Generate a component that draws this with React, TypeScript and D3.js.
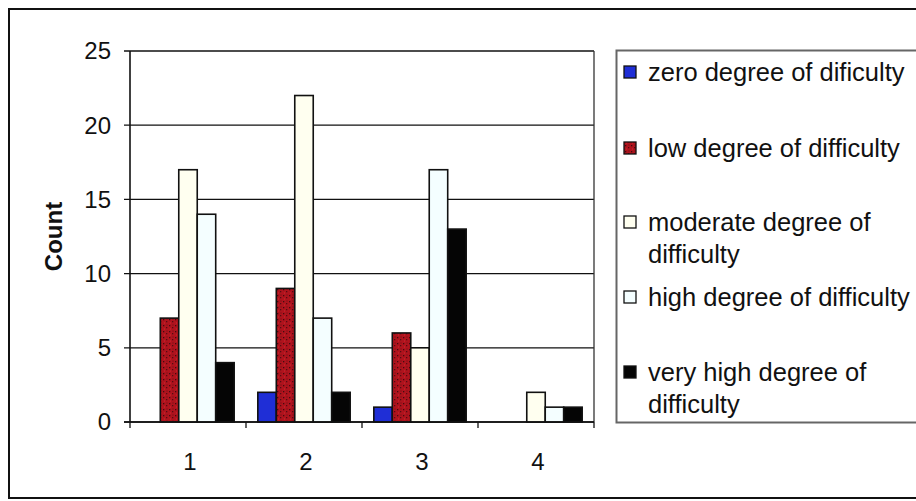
import React from "react";
import * as d3 from "d3";

const categories = ["1", "2", "3", "4"];
const seriesNames = [
  "zero degree of dificulty",
  "low degree of difficulty",
  "moderate degree of difficulty",
  "high degree of difficulty",
  "very high degree of difficulty",
];
const legendLines = [
  ["zero degree of dificulty"],
  ["low degree of difficulty"],
  ["moderate degree of", "difficulty"],
  ["high degree of difficulty"],
  ["very high degree of", "difficulty"],
];
const zeroValues = [0, 2, 1, 0];
const lowValues = [7, 9, 6, 0];
const moderateValues = [17, 22, 5, 2];
const highValues = [14, 7, 17, 1];
const veryHighValues = [4, 2, 13, 1];
const seriesValues = [zeroValues, lowValues, moderateValues, highValues, veryHighValues];
const yTicks = [0, 5, 10, 15, 20, 25];
const seriesFills = ["#1f2ed6", "url(#redTex)", "#fffff0", "#f4feff", "#050505"];

const FONT = "'Liberation Sans', Arial, sans-serif";

export default function App() {
  const left = 130, right = 594, top = 51, bottom = 422;
  const x0 = d3.scaleBand<string>().domain(categories).range([left, right]).paddingInner(0).paddingOuter(0);
  const x1 = d3.scaleBand<string>().domain(seriesNames).range([0, x0.bandwidth()]).paddingInner(0).paddingOuter(0.64);
  const y = d3.scaleLinear().domain([0, 25]).range([bottom, top]);

  const legendRowY = [72, 148, 222, 297, 372];

  return (
    <svg width={916} height={501} style={{ position: "absolute", left: 0, top: 0, background: "#fff" }}
      fontFamily={FONT}>
      <defs>
        <pattern id="redTex" width="6" height="6" patternUnits="userSpaceOnUse">
          <rect width="6" height="6" fill="#b0131d" />
          <rect x="1" y="1" width="1.3" height="1.3" fill="#440a0f" />
          <rect x="4" y="3" width="1.3" height="1.3" fill="#550b11" />
          <rect x="2" y="4.5" width="1" height="1" fill="#d02830" />
          <rect x="4.5" y="0.5" width="1" height="1" fill="#650d13" />
        </pattern>
      </defs>
      <rect x={0} y={0} width={916} height={501} fill="#fff" />
      {/* outer frame */}
      <rect x={9} y={9} width={920} height={489} fill="none" stroke="#111" strokeWidth={2} />

      {/* gridlines */}
      {yTicks.map((t) => (
        <line key={"g" + t} x1={left - 6} x2={right} y1={y(t)} y2={y(t)} stroke="#111" strokeWidth={1.3} />
      ))}
      {/* plot right border */}
      <line x1={right} x2={right} y1={top} y2={bottom} stroke="#333" strokeWidth={1.3} />
      {/* y tick labels */}
      {yTicks.map((t) => (
        <text key={"yl" + t} x={111} y={y(t)} dy="0.35em" textAnchor="end" fontSize={24} fill="#111">
          {t}
        </text>
      ))}
      {/* y axis title */}
      <text transform={`translate(62,${(top + bottom) / 2}) rotate(-90)`} textAnchor="middle" fontSize={24}
        fontWeight="bold" fill="#111">
        Count
      </text>

      {/* bars */}
      {categories.map((c, ci) =>
        seriesNames.map((s, si) => {
          const v = seriesValues[si][ci];
          if (v <= 0) return null;
          const bx = (x0(c) as number) + (x1(s) as number);
          return (
            <rect key={c + s} x={bx} y={y(v)} width={x1.bandwidth()} height={y(0) - y(v)}
              fill={seriesFills[si]} stroke="#111" strokeWidth={1.6} />
          );
        })
      )}

      {/* axes */}
      <line x1={left} x2={left} y1={top} y2={bottom} stroke="#111" strokeWidth={1.6} />
      <line x1={left - 6} x2={right} y1={bottom} y2={bottom} stroke="#111" strokeWidth={1.6} />
      {[...categories.map((c) => x0(c) as number), right].map((xv, i) => (
        <line key={"xt" + i} x1={xv} x2={xv} y1={bottom} y2={bottom + 6} stroke="#111" strokeWidth={1.3} />
      ))}
      {categories.map((c) => (
        <text key={"xl" + c} x={(x0(c) as number) + x0.bandwidth() / 2 + 2} y={462} dy="0.35em"
          textAnchor="middle" fontSize={24} fill="#111">
          {c}
        </text>
      ))}

      {/* legend */}
      <rect x={616.5} y={50.5} width={320} height={372} fill="#fff" stroke="#666" strokeWidth={2} />
      {seriesNames.map((s, si) => (
        <g key={"lg" + s}>
          <rect x={624} y={legendRowY[si] - 6} width={12} height={12} fill={seriesFills[si]} stroke="#111"
            strokeWidth={1.3} />
          {legendLines[si].map((ln, li) => (
            <text key={li} x={648} y={legendRowY[si] + li * 32} dy="0.35em" fontSize={25.5} fill="#111">
              {ln}
            </text>
          ))}
        </g>
      ))}
    </svg>
  );
}
